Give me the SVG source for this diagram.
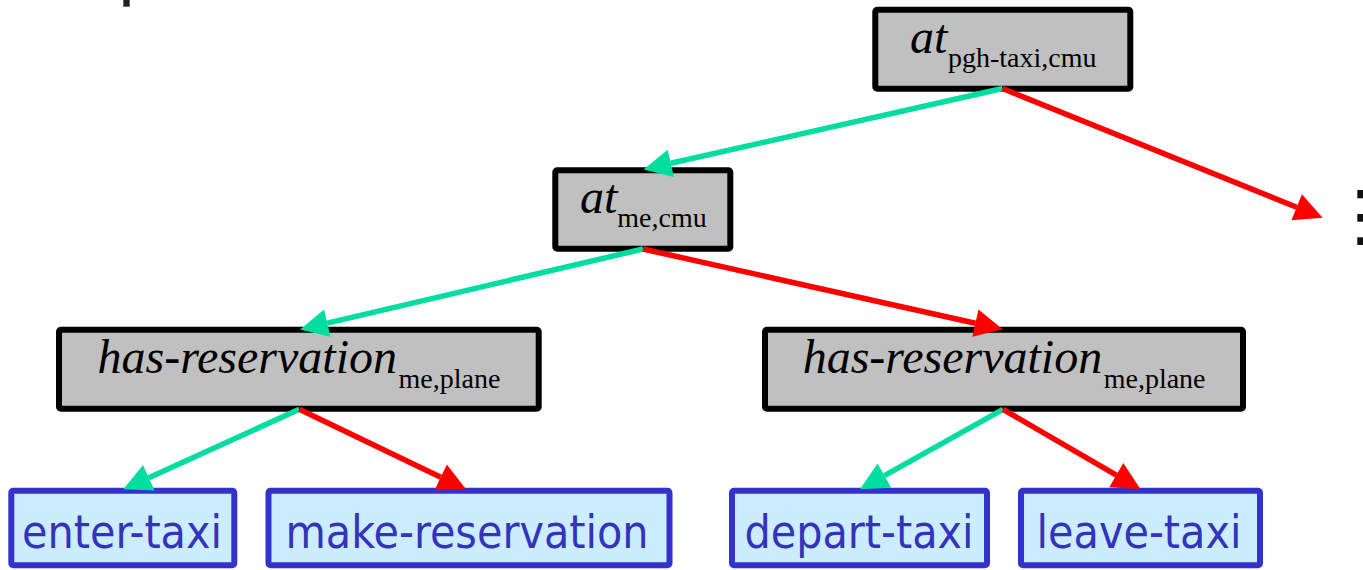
<svg xmlns="http://www.w3.org/2000/svg" width="1363" height="570" viewBox="0 0 1363 570">
  <style>
    .test rect { fill: #C0C0C0; stroke: #000; stroke-width: 6; }
    .test text { font-family: "Liberation Serif", "Times New Roman", serif; fill: #000; }
    .test .var { font-style: italic; font-size: 48px; }
    .test .sub { font-size: 28px; font-style: normal; }
    .action rect { fill: #CCECFF; stroke: #3333CC; stroke-width: 6; }
    .action text { font-family: "DejaVu Sans Condensed", "DejaVu Sans", sans-serif; font-stretch: condensed; font-size: 46px; fill: #3333BB; text-anchor: middle; }
    .yes { stroke: #00DDA0; stroke-width: 5.5; fill: none; marker-end: url(#headYes); }
    .no { stroke: #FF0000; stroke-width: 5.5; fill: none; marker-end: url(#headNo); }
  </style>
  <defs>
    <marker id="headYes" markerUnits="userSpaceOnUse" markerWidth="28" markerHeight="28" viewBox="0 -14 28 28" refX="0" refY="0" orient="auto" overflow="visible">
      <path d="M0,-14 L28,0 L0,14 z" fill="#00DDA0"/>
    </marker>
    <marker id="headNo" markerUnits="userSpaceOnUse" markerWidth="28" markerHeight="28" viewBox="0 -14 28 28" refX="0" refY="0" orient="auto" overflow="visible">
      <path d="M0,-14 L28,0 L0,14 z" fill="#FF0000"/>
    </marker>
  </defs>

  <rect width="1363" height="570" fill="#FFFFFF"/>

  <!-- stray mark at the top edge -->
  <rect x="123.3" y="0" width="6.4" height="6.7" fill="#222"/>

  <!-- continuation dots at the right edge -->
  <g id="more" fill="#111">
    <rect x="1357.3" y="190" width="6" height="8.3"/>
    <rect x="1357.3" y="214" width="6" height="7.7"/>
    <rect x="1357.3" y="237.3" width="6" height="7.7"/>
  </g>

  <!-- decision tests -->
  <g id="at-pgh-taxi-cmu" class="test">
    <rect x="875.3" y="9.7" width="255" height="79" rx="2"/>
    <text x="910" y="53.3"><tspan class="var">at</tspan><tspan class="sub" x="948" y="66.7">pgh-taxi,cmu</tspan></text>
  </g>
  <g id="at-me-cmu" class="test">
    <rect x="555.3" y="170.3" width="175" height="78.4" rx="2"/>
    <text x="580" y="213.3"><tspan class="var">at</tspan><tspan class="sub" x="617.3" y="226.7">me,cmu</tspan></text>
  </g>
  <g id="has-reservation-left" class="test">
    <rect x="59" y="329.7" width="479.7" height="79" rx="2"/>
    <text x="97.5" y="373.3"><tspan class="var">has-reservation</tspan><tspan class="sub" x="398.5" y="388.3">me,plane</tspan></text>
  </g>
  <g id="has-reservation-right" class="test">
    <rect x="765" y="329.7" width="478" height="79" rx="2"/>
    <text x="802.7" y="373.3"><tspan class="var">has-reservation</tspan><tspan class="sub" x="1103.7" y="388.3">me,plane</tspan></text>
  </g>

  <!-- actions -->
  <g id="enter-taxi" class="action">
    <rect x="11.3" y="490.7" width="223" height="74.6" rx="2"/>
    <text x="122" y="548.3">enter-taxi</text>
  </g>
  <g id="make-reservation" class="action">
    <rect x="268.5" y="490.7" width="401" height="74.6" rx="2"/>
    <text x="467" y="548.3">make-reservation</text>
  </g>
  <g id="depart-taxi" class="action">
    <rect x="732" y="490.7" width="255" height="74.6" rx="2"/>
    <text x="859" y="548.3">depart-taxi</text>
  </g>
  <g id="leave-taxi" class="action">
    <rect x="1021" y="490.7" width="239" height="74.6" rx="2"/>
    <text x="1139" y="548.3">leave-taxi</text>
  </g>

  <!-- branches: green = true, red = false -->
  <g id="connectors">
    <path class="yes" d="M1002.5,88.5 L670.8,163.3"/>
    <path class="no" d="M1002.5,88.5 L1296.7,207.2"/>
    <path class="yes" d="M643,249 L327.3,323.1"/>
    <path class="no" d="M643,249 L975.4,323.2"/>
    <path class="yes" d="M299.3,409.3 L148.8,477.7"/>
    <path class="no" d="M299.3,409.3 L440.8,477.2"/>
    <path class="yes" d="M1003,409.3 L884.4,475.6"/>
    <path class="no" d="M1003,409.3 L1116.3,475.2"/>
  </g>
</svg>
